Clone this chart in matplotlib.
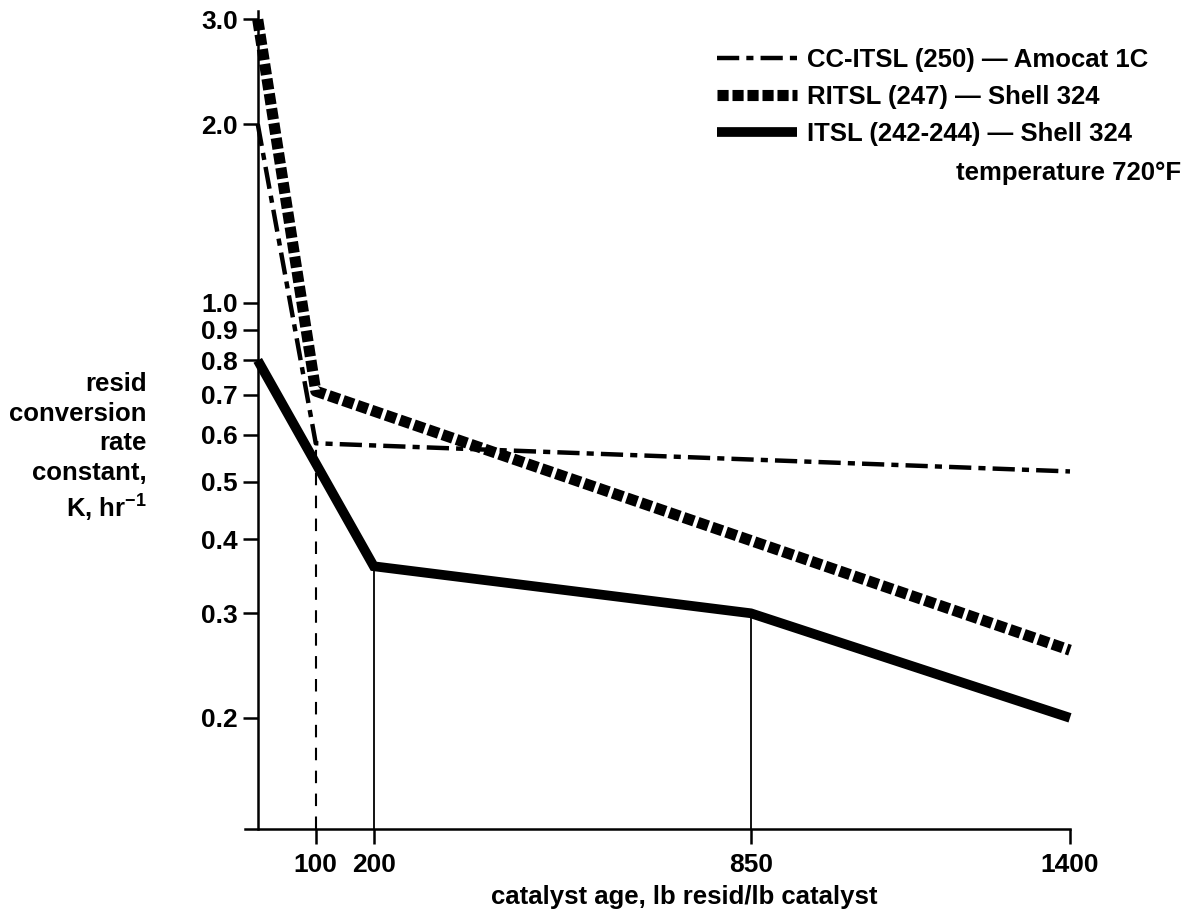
import matplotlib
matplotlib.use("Agg")
import matplotlib.pyplot as plt

plt.rcParams['font.family'] = ['Liberation Sans', 'DejaVu Sans']
plt.rcParams['font.weight'] = 'bold'
plt.rcParams['mathtext.fontset'] = 'custom'
plt.rcParams['mathtext.rm'] = 'Liberation Sans:bold'
plt.rcParams['mathtext.default'] = 'rm'

# catalyst age (lb resid / lb catalyst) vs rate constant K (1/hr)
cc_age = [0, 100, 1400]
cc_k = [2.0, 0.58, 0.52]

ritsl_age = [0, 100, 1400]
ritsl_k = [3.0, 0.71, 0.26]

itsl_age = [0, 200, 850, 1400]
itsl_k = [0.80, 0.36, 0.30, 0.20]

cc_label = "CC-ITSL (250) — Amocat 1C"
ritsl_label = "RITSL (247) — Shell 324"
itsl_label = "ITSL (242-244) — Shell 324"

x_ticks = [100, 200, 850, 1400]
y_ticks = [0.2, 0.3, 0.4, 0.5, 0.6, 0.7, 0.8, 0.9, 1.0, 2.0, 3.0]
y_ticklabels = ["0.2", "0.3", "0.4", "0.5", "0.6", "0.7", "0.8", "0.9", "1.0", "2.0", "3.0"]

fs = 18.5

fig = plt.figure(figsize=(11.84, 9.19), dpi=100)
ax = fig.add_axes([0.2069, 0.098, 0.6968, 0.890])

ax.set_yscale('log')
ax.set_xlim(-22, 1400)
ax.set_ylim(0.13, 3.1)

# reference drops from the curves to the age axis
y_floor = 0.13
ax.vlines(cc_age[1], y_floor, cc_k[1], colors='black', lw=1.5,
          linestyles=(0, (6, 5)))
ax.vlines(itsl_age[1], y_floor, itsl_k[1], colors='black', lw=1.3)
ax.vlines(itsl_age[2], y_floor, itsl_k[2], colors='black', lw=1.3)

ln_cc, = ax.plot(cc_age, cc_k, color='black', lw=3.2,
                 linestyle=(0, (5, 1.6, 1.6, 1.6)), solid_capstyle='butt',
                 dash_capstyle='butt', clip_on=False, label=cc_label)
ln_ritsl, = ax.plot(ritsl_age, ritsl_k, color='black', lw=8,
                    linestyle=(0, (1.0, 0.35)), dash_capstyle='butt',
                    clip_on=False, label=ritsl_label)
ln_itsl, = ax.plot(itsl_age, itsl_k, color='black', lw=7,
                   solid_capstyle='butt', solid_joinstyle='miter',
                   clip_on=False, label=itsl_label)

# axes: y axis sits at age 0, no box
ax.spines['top'].set_visible(False)
ax.spines['right'].set_visible(False)
ax.spines['left'].set_position(('data', 0))
ax.spines['left'].set_linewidth(1.8)
ax.spines['bottom'].set_linewidth(1.8)

ax.minorticks_off()
ax.set_yticks(y_ticks)
ax.set_yticklabels(y_ticklabels)
ax.set_xticks(x_ticks)
ax.set_xticklabels([str(v) for v in x_ticks])
ax.tick_params(axis='both', direction='out', length=10.5, width=1.8,
               labelsize=19, pad=4)
ax.tick_params(axis='x', pad=7)

ax.set_xlabel("catalyst age, lb resid/lb catalyst", fontsize=fs,
              fontweight='bold', va='center')
ax.xaxis.set_label_coords(0.533, -0.083)

ax.set_ylabel("resid\nconversion\nrate\nconstant,\nK, hr$^{-1}$",
              fontsize=fs, fontweight='bold', rotation=0,
              ha='right', va='center', multialignment='right',
              linespacing=1.3)
ax.yaxis.set_label_coords(-0.119, 0.466)

leg = ax.legend(handles=[ln_cc, ln_ritsl, ln_itsl], loc='upper left',
                bbox_to_anchor=(0.6056, 0.9478),
                bbox_transform=fig.transFigure, frameon=False,
                fontsize=fs, handlelength=3.1, handletextpad=0.4,
                labelspacing=0.5, borderpad=0, borderaxespad=0)
for t in leg.get_texts():
    t.set_fontweight('bold')

fig.text(1181 / 1184, 1 - 173 / 919, "temperature 720°F", fontsize=fs,
         fontweight='bold', ha='right', va='center')

fig.savefig("out.png", dpi=100)
